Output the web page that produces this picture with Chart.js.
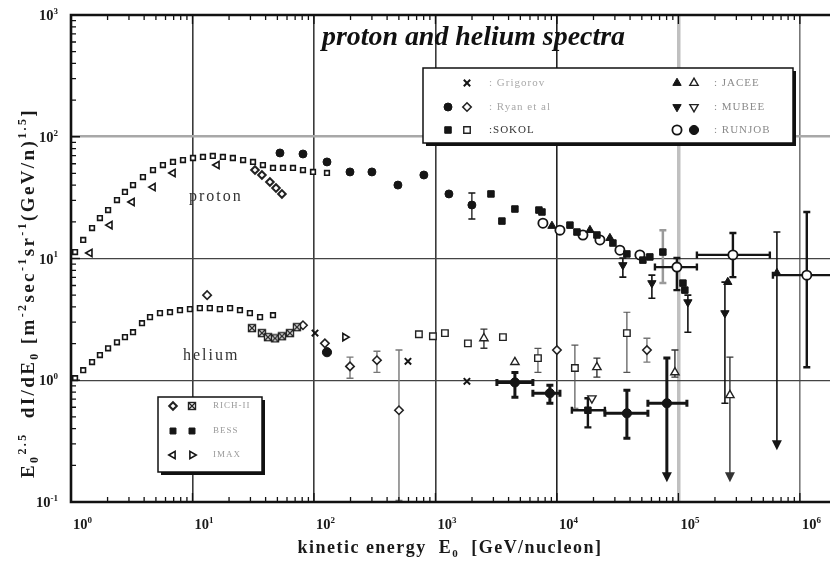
<!DOCTYPE html>
<html>
<head>
<meta charset="utf-8">
<script src="https://cdn.jsdelivr.net/npm/chart.js@4.4.1/dist/chart.umd.min.js"></script>
<style>
html, body { margin: 0; padding: 0; background: #fff; }
#wrap { width: 830px; height: 565px; }
</style>
</head>
<body>
<div id="wrap"><canvas id="chart" width="830" height="565"></canvas></div>
<script>
// Оси
const X_MIN = 1, X_MAX = 1.77e6;
const Y_MIN = 0.1, Y_MAX = 1000;
const xDecades = [0, 1, 2, 3, 4, 5, 6];
const yDecades = [-1, 0, 1, 2, 3];

// ---- протоны ----
const bessProtonE = [1.08, 1.26, 1.49, 1.73, 2.02, 2.39, 2.78, 3.24, 3.91, 4.73, 5.71, 6.91, 8.35, 10.1, 12.2, 14.7, 17.8, 21.5, 26.1, 31.5, 38, 46, 55.6, 67.2, 81.2, 98.2, 128];
const bessProtonFlux = [11.3, 14.2, 17.8, 21.5, 25, 30.2, 35.2, 40.1, 46.7, 53.3, 58.6, 62.1, 64.4, 66.9, 68.2, 69.5, 68.2, 66.9, 64.4, 62.1, 58.6, 55.4, 55.4, 55.4, 53.3, 51.4, 50.4];

const imaxProtonE = [1.43, 2.09, 3.18, 4.73, 6.91, 15.9];
const imaxProtonFlux = [11.1, 18.8, 29.1, 38.6, 50.4, 58.6];

const richProtonE = [32.7, 37.3, 43.4, 48.7, 54.5];
const richProtonFlux = [53.3, 48.5, 42.5, 37.9, 33.9];

const ryanProtonE = [52.5, 81.2, 128, 198, 300, 491, 803, 1291, 1995];
const ryanProtonFlux = [73.6, 72.2, 62.1, 51.4, 51.4, 40.1, 48.5, 33.9, 27.5];
const ryanProtonErr = [null, null, null, null, null, null, null, null, [21.1, 34.5]];

const sokolProtonE = [2864, 3525, 4510, 7110, 7530, 12800, 14620, 21340, 28900, 37670, 51000, 58200, 74500, 109000, 113000];
const sokolProtonFlux = [33.9, 20.3, 25.5, 25.0, 24.1, 18.8, 16.5, 15.6, 13.4, 10.9, 9.7, 10.3, 11.3, 6.28, 5.5];
const sokolProtonErr = [null, null, null, null, null, null, null, null, null, null, null, null, [6.28, 17.1], null, null];

const jaceeProtonE = [9100, 18700, 27300, 255000, 647000];
const jaceeProtonFlux = [18.5, 17.1, 14.7, 6.4, 7.59];
const jaceeProtonErr = [null, null, null, null, [0.266, 16.5]];
const jaceeProtonArrow = [false, false, false, false, true];

const mubeeProtonE = [34900, 60500, 119700, 241500];
const mubeeProtonFlux = [8.83, 6.28, 4.38, 3.56];
const mubeeProtonErr = [[7.03, 10.1], [4.72, 7.3], [2.48, 5.0], [0.647, 6.4]];

const runjobProtonE = [7670, 10590, 16370, 22600, 33000, 48200, 97200, 281000, 1140000];
const runjobProtonFlux = [19.5, 17.1, 15.6, 14.2, 11.7, 10.7, 8.5, 10.7, 7.3];
const runjobProtonErr = [null, null, null, null, null, null, [5.5, 10.1], [7.03, 16.2], [1.28, 24.1]];
const runjobProtonXErr = [null, null, null, null, null, null, [64100, 142000], [142000, 566000], [600000, 2500000]];

// ---- гелий ----
const bessHeliumE = [1.08, 1.26, 1.49, 1.73, 2.02, 2.39, 2.78, 3.24, 3.84, 4.47, 5.4, 6.53, 7.89, 9.53, 11.5, 13.9, 16.8, 20.4, 24.6, 29.7, 36.0, 46.0];
const bessHeliumFlux = [1.04, 1.21, 1.41, 1.61, 1.83, 2.05, 2.26, 2.48, 2.94, 3.3, 3.56, 3.62, 3.76, 3.84, 3.91, 3.91, 3.84, 3.91, 3.76, 3.56, 3.3, 3.42];

const imaxHeliumE = [180];
const imaxHeliumFlux = [2.26];

const richHeliumE = [30.9, 37.3, 41.8, 47.8, 54.5, 63.4, 72.4];
const richHeliumFlux = [2.68, 2.44, 2.26, 2.21, 2.3, 2.44, 2.73];

const ryanHeliumE = [13.2, 81.2, 123, 198, 330, 501, 10000, 55080];
const ryanHeliumFlux = [5.0, 2.83, 2.01, 1.3, 1.46, 0.567, 1.77, 1.77];
const ryanHeliumErr = [null, null, null, [1.04, 1.55], [1.16, 1.73], [0.103, 1.77], null, [1.41, 2.21]];

const grigorovHeliumE = [102, 594, 1816];
const grigorovHeliumFlux = [2.44, 1.43, 0.98];

const sokolHeliumE = [731, 953, 1197, 1850, 3594, 6980, 14060, 37670];
const sokolHeliumFlux = [2.39, 2.3, 2.44, 2.01, 2.26, 1.52, 1.26, 2.44];
const sokolHeliumErr = [null, null, null, null, null, [1.16, 1.83], [0.589, 1.94], [1.16, 3.62]];

const sokolHeliumBigE = [17990];
const sokolHeliumBigFlux = [0.567];
const sokolHeliumBigErr = [[0.41, 0.711]];
const sokolHeliumBigXErr = [[13280, 24830]];

const jaceeHeliumE = [2507, 4510, 21340, 93600, 265500];
const jaceeHeliumFlux = [2.21, 1.41, 1.28, 1.16, 0.753];
const jaceeHeliumErr = [[1.83, 2.63], null, [1.06, 1.52], [1.06, 1.77], [0.145, 1.55]];
const jaceeHeliumArrow = [false, false, false, false, true];

const mubeeHeliumE = [19410];
const mubeeHeliumFlux = [0.711];

const runjobHeliumE = [128, 4510, 8750, 37670, 80350];
const runjobHeliumFlux = [1.7, 0.96, 0.782, 0.535, 0.647];
const runjobHeliumErr = [null, [0.725, 1.16], [0.647, 0.91], [0.334, 0.827], [0.145, 1.52]];
const runjobHeliumXErr = [null, [3206, 6340], [6340, 10590], [24830, 56100], [56100, 117500]];
const runjobHeliumArrow = [false, false, false, false, true];

// Маркер ⊠ для RICH-II (гелий)
const boxCross = document.createElement('canvas');
boxCross.width = 10; boxCross.height = 10;
(function () {
    const c = boxCross.getContext('2d');
    c.fillStyle = '#fff';
    c.fillRect(1, 1, 8, 8);
    c.strokeStyle = '#222';
    c.lineWidth = 1.4;
    c.strokeRect(1.5, 1.5, 7, 7);
    c.beginPath();
    c.moveTo(2, 2); c.lineTo(8, 8);
    c.moveTo(8, 2); c.lineTo(2, 8);
    c.stroke();
})();

// Стили маркеров
const DARK = '#151515';
const st = {
    grigorov: { pointStyle: 'crossRot', radius: 4.5, bg: DARK, border: DARK, bw: 2 },
    ryanP: { pointStyle: 'circle', radius: 4, bg: DARK, border: DARK, bw: 1 },
    ryanHe: { pointStyle: 'rectRot', radius: 4.2, bg: '#fff', border: '#222', bw: 1.6 },
    sokolP: { pointStyle: 'rect', radius: 4.6, bg: DARK, border: DARK, bw: 1 },
    sokolHe: { pointStyle: 'rect', radius: 4.6, bg: '#fff', border: '#222', bw: 1.4 },
    jaceeP: { pointStyle: 'triangle', radius: 4.8, bg: DARK, border: DARK, bw: 1 },
    jaceeHe: { pointStyle: 'triangle', radius: 4.8, bg: '#fff', border: '#222', bw: 1.4 },
    mubeeP: { pointStyle: 'triangle', radius: 4.8, rotation: 180, bg: DARK, border: DARK, bw: 1 },
    mubeeHe: { pointStyle: 'triangle', radius: 4.8, rotation: 180, bg: '#fff', border: '#222', bw: 1.4 },
    runjobP: { pointStyle: 'circle', radius: 4.6, bg: '#fff', border: DARK, bw: 1.8 },
    runjobHe: { pointStyle: 'circle', radius: 4.6, bg: DARK, border: DARK, bw: 1 },
    richP: { pointStyle: 'rectRot', radius: 3.8, bg: '#fff', border: '#222', bw: 2 },
    richHe: { pointStyle: boxCross, radius: 5, bg: '#fff', border: '#222', bw: 1 },
    bessP: { pointStyle: 'rect', radius: 3.3, bg: '#fff', border: DARK, bw: 1.6 },
    bessHe: { pointStyle: 'rect', radius: 3.3, bg: '#fff', border: DARK, bw: 1.6 },
    bessLeg: { pointStyle: 'rect', radius: 4.2, bg: DARK, border: DARK, bw: 1 },
    imaxP: { pointStyle: 'triangle', radius: 4.2, rotation: -90, bg: '#fff', border: DARK, bw: 1.6 },
    imaxHe: { pointStyle: 'triangle', radius: 4.2, rotation: 90, bg: '#fff', border: DARK, bw: 1.6 }
};

function makeSet(label, xs, ys, s, extra) {
    return Object.assign({
        label: label,
        data: xs.map((v, i) => ({ x: v, y: ys[i] })),
        pointStyle: s.pointStyle,
        pointRadius: s.radius,
        pointRotation: s.rotation || 0,
        pointBackgroundColor: s.bg,
        pointBorderColor: s.border,
        pointBorderWidth: s.bw,
        showLine: false
    }, extra || {});
}

const datasets = [
    makeSet('BESS p', bessProtonE, bessProtonFlux, st.bessP),
    makeSet('IMAX p', imaxProtonE, imaxProtonFlux, st.imaxP),
    makeSet('RICH-II p', richProtonE, richProtonFlux, st.richP),
    makeSet('Ryan p', ryanProtonE, ryanProtonFlux, st.ryanP, { yErr: ryanProtonErr }),
    makeSet('SOKOL p', sokolProtonE, sokolProtonFlux, st.sokolP, { yErr: sokolProtonErr, errColor: '#9a9a9a', errWidth: 2.5 }),
    makeSet('JACEE p', jaceeProtonE, jaceeProtonFlux, st.jaceeP, { yErr: jaceeProtonErr, arrow: jaceeProtonArrow, errWidth: 1.6 }),
    makeSet('MUBEE p', mubeeProtonE, mubeeProtonFlux, st.mubeeP, { yErr: mubeeProtonErr, errWidth: 1.6 }),
    makeSet('RUNJOB p', runjobProtonE, runjobProtonFlux, st.runjobP, { yErr: runjobProtonErr, xErr: runjobProtonXErr, errWidth: 2.4 }),
    makeSet('BESS He', bessHeliumE, bessHeliumFlux, st.bessHe),
    makeSet('IMAX He', imaxHeliumE, imaxHeliumFlux, st.imaxHe),
    makeSet('RICH-II He', richHeliumE, richHeliumFlux, st.richHe),
    makeSet('Ryan He', ryanHeliumE, ryanHeliumFlux, st.ryanHe, { yErr: ryanHeliumErr, errColor: '#777', errWidth: 1.4 }),
    makeSet('Grigorov He', grigorovHeliumE, grigorovHeliumFlux, st.grigorov),
    makeSet('SOKOL He', sokolHeliumE, sokolHeliumFlux, st.sokolHe, { yErr: sokolHeliumErr, errColor: '#555', errWidth: 1.2 }),
    makeSet('SOKOL He big', sokolHeliumBigE, sokolHeliumBigFlux, st.sokolP, { yErr: sokolHeliumBigErr, xErr: sokolHeliumBigXErr, errWidth: 2.4 }),
    makeSet('JACEE He', jaceeHeliumE, jaceeHeliumFlux, st.jaceeHe, { yErr: jaceeHeliumErr, arrow: jaceeHeliumArrow, errColor: '#333', errWidth: 1.4 }),
    makeSet('MUBEE He', mubeeHeliumE, mubeeHeliumFlux, st.mubeeHe),
    makeSet('RUNJOB He', runjobHeliumE, runjobHeliumFlux, st.runjobHe, { yErr: runjobHeliumErr, xErr: runjobHeliumXErr, arrow: runjobHeliumArrow, errWidth: 3 })
];

// Сетка только на декадах
function decadeExp(v) {
    const l = Math.log10(v);
    const r = Math.round(l);
    return Math.abs(l - r) < 1e-6 ? r : null;
}
const xGridColor = { 1: '#3a3a3a', 2: '#3a3a3a', 3: '#3a3a3a', 4: '#222', 5: '#c0c0c0', 6: '#777' };
const xGridWidth = { 1: 1.6, 2: 1.6, 3: 1.6, 4: 1.6, 5: 3.5, 6: 1.6 };
const yGridColor = { 0: '#444', 1: '#444', 2: '#a8a8a8' };
const yGridWidth = { 0: 1.2, 1: 1.2, 2: 2.6 };

function gridPick(map, fallback) {
    return c => {
        if (!c.tick) return fallback;
        const e = decadeExp(c.tick.value);
        return e !== null && map[e] !== undefined ? map[e] : fallback;
    };
}

// Планки погрешностей
const errorBars = {
    id: 'errorBars',
    beforeDatasetsDraw(chart) {
        const { ctx, chartArea: a, scales: { x, y } } = chart;
        ctx.save();
        ctx.beginPath();
        ctx.rect(a.left, a.top, a.right - a.left, a.bottom - a.top);
        ctx.clip();
        chart.data.datasets.forEach(ds => {
            if (!ds.yErr && !ds.xErr) return;
            const col = ds.errColor || '#151515';
            ctx.strokeStyle = col;
            ctx.fillStyle = col;
            ctx.lineWidth = ds.errWidth || 1.3;
            ds.data.forEach((p, i) => {
                const px = x.getPixelForValue(p.x);
                const py = y.getPixelForValue(p.y);
                const ye = ds.yErr && ds.yErr[i];
                const arrow = ds.arrow && ds.arrow[i];
                if (ye) {
                    const y0 = y.getPixelForValue(ye[0]);
                    const y1 = y.getPixelForValue(ye[1]);
                    ctx.beginPath();
                    ctx.moveTo(px, arrow ? y0 - 8 : y0);
                    ctx.lineTo(px, y1);
                    ctx.moveTo(px - 3.5, y1); ctx.lineTo(px + 3.5, y1);
                    if (!arrow) { ctx.moveTo(px - 3.5, y0); ctx.lineTo(px + 3.5, y0); }
                    ctx.stroke();
                    if (arrow) {
                        ctx.beginPath();
                        ctx.moveTo(px - 5, y0 - 10);
                        ctx.lineTo(px + 5, y0 - 10);
                        ctx.lineTo(px, y0);
                        ctx.closePath();
                        ctx.fill();
                    }
                }
                const xe = ds.xErr && ds.xErr[i];
                if (xe) {
                    const x0 = x.getPixelForValue(xe[0]);
                    const x1 = x.getPixelForValue(xe[1]);
                    ctx.beginPath();
                    ctx.moveTo(x0, py); ctx.lineTo(x1, py);
                    ctx.moveTo(x0, py - 3.5); ctx.lineTo(x0, py + 3.5);
                    ctx.moveTo(x1, py - 3.5); ctx.lineTo(x1, py + 3.5);
                    ctx.stroke();
                }
            });
        });
        ctx.restore();
    }
};

const SERIF = '"Liberation Serif", "Times New Roman", serif';

// Текст с верхними/нижними индексами; target — желаемая длина строки
function drawRuns(ctx, runs, x, y, size, align, target) {
    const fonts = {
        n: 'bold ' + size + 'px ' + SERIF,
        sup: 'bold ' + Math.round(size * 0.62) + 'px ' + SERIF,
        sub: 'bold ' + Math.round(size * 0.62) + 'px ' + SERIF
    };
    const off = { n: 0, sup: -size * 0.42, sub: size * 0.22 };
    ctx.letterSpacing = '0px';
    let natural = 0, chars = 0;
    runs.forEach(r => { ctx.font = fonts[r[1]]; natural += ctx.measureText(r[0]).width; chars += r[0].length; });
    const gap = target ? Math.max(0, (target - natural) / chars) : 0;
    const total = natural + gap * chars;
    let cx = align === 'center' ? x - total / 2 : align === 'right' ? x - total : x;
    ctx.textAlign = 'left';
    ctx.textBaseline = 'alphabetic';
    runs.forEach(r => {
        ctx.font = fonts[r[1]];
        for (const ch of r[0]) {
            ctx.fillText(ch, cx, y + off[r[1]]);
            cx += ctx.measureText(ch).width + gap;
        }
    });
}

function fitFont(ctx, text, style, target) {
    ctx.font = style + ' 20px ' + SERIF;
    const size = 20 * target / ctx.measureText(text).width;
    return style + ' ' + size.toFixed(1) + 'px ' + SERIF;
}

function symbol(ctx, s, x, y) {
    ctx.save();
    ctx.fillStyle = s.bg;
    ctx.strokeStyle = s.border;
    ctx.lineWidth = s.bw;
    Chart.helpers.drawPoint(ctx, { pointStyle: s.pointStyle, radius: s.radius, rotation: s.rotation || 0, borderWidth: s.bw }, x, y);
    ctx.restore();
}

function legendBox(ctx, l, t, r, b) {
    ctx.fillStyle = '#111';
    ctx.fillRect(l + 3, t + 3, r - l, b - t);
    ctx.fillStyle = '#fff';
    ctx.fillRect(l, t, r - l, b - t);
    ctx.strokeStyle = '#111';
    ctx.lineWidth = 1.5;
    ctx.strokeRect(l, t, r - l, b - t);
}

const legendMain = [
    { syms: [null, st.grigorov], text: ': Grigorov', color: '#a8a8a8', col: 0 },
    { syms: [st.ryanP, st.ryanHe], text: ': Ryan et al', color: '#a8a8a8', col: 0 },
    { syms: [st.sokolP, st.sokolHe], text: ':SOKOL', color: '#333', col: 0 },
    { syms: [st.jaceeP, st.jaceeHe], text: ': JACEE', color: '#8a8a8a', col: 1 },
    { syms: [st.mubeeP, st.mubeeHe], text: ': MUBEE', color: '#8a8a8a', col: 1 },
    { syms: [st.runjobP, st.runjobHe], text: ': RUNJOB', color: '#8a8a8a', col: 1 }
];
const legendLow = [
    { syms: [st.richP, st.richHe], text: 'RICH-II' },
    { syms: [st.bessLeg, st.bessLeg], text: 'BESS' },
    { syms: [st.imaxP, st.imaxHe], text: 'IMAX' }
];

const frame = {
    id: 'frame',
    afterDatasetsDraw(chart) {
        const { ctx, chartArea: a, scales: { x, y } } = chart;
        ctx.save();

        // Малые и большие риски внутрь
        ctx.strokeStyle = '#111';
        ctx.lineWidth = 1.3;
        ctx.beginPath();
        xDecades.forEach(d => {
            for (let k = 1; k <= 9; k++) {
                const v = k * Math.pow(10, d);
                if (v > X_MAX) continue;
                const px = x.getPixelForValue(v);
                const len = k === 1 ? 9 : 5;
                ctx.moveTo(px, a.bottom); ctx.lineTo(px, a.bottom - len);
                ctx.moveTo(px, a.top); ctx.lineTo(px, a.top + len);
            }
        });
        yDecades.forEach(d => {
            for (let k = 1; k <= 9; k++) {
                const v = k * Math.pow(10, d);
                if (v > Y_MAX) continue;
                const py = y.getPixelForValue(v);
                const len = k === 1 ? 9 : 5;
                ctx.moveTo(a.left, py); ctx.lineTo(a.left + len, py);
            }
        });
        ctx.stroke();

        // Рамка (правый край обрезан)
        ctx.lineWidth = 2.6;
        ctx.beginPath();
        ctx.moveTo(a.right + 2, a.top);
        ctx.lineTo(a.left, a.top);
        ctx.lineTo(a.left, a.bottom);
        ctx.lineTo(a.right + 2, a.bottom);
        ctx.stroke();

        // Подписи делений
        ctx.fillStyle = '#1a1a1a';
        xDecades.forEach(d => {
            drawRuns(ctx, [['10', 'n'], [String(d), 'sup']], x.getPixelForValue(Math.pow(10, d)) + 2, 529, 14.5);
        });
        yDecades.forEach(d => {
            drawRuns(ctx, [['10', 'n'], [String(d), 'sup']], 58, y.getPixelForValue(Math.pow(10, d)) + 5, 14.5, 'right');
        });

        // Подпись оси X
        drawRuns(ctx, [['kinetic energy  E', 'n'], ['0', 'sub'], ['  [GeV/nucleon]', 'n']], 450, 553, 18, 'center', 305);

        // Подпись оси Y
        ctx.save();
        ctx.translate(34, 293);
        ctx.rotate(-Math.PI / 2);
        drawRuns(ctx, [
            ['E', 'n'], ['0', 'sub'], ['2.5', 'sup'], ['  dI/dE', 'n'], ['0', 'sub'],
            [' [m', 'n'], ['-2', 'sup'], ['sec', 'n'], ['-1', 'sup'], ['sr', 'n'], ['-1', 'sup'],
            ['(GeV/n)', 'n'], ['1.5', 'sup'], [']', 'n']
        ], 0, 0, 19, 'center', 370);
        ctx.restore();

        // Заголовок
        const title = 'proton and helium spectra';
        ctx.font = fitFont(ctx, title, 'italic bold', 303);
        ctx.textAlign = 'left';
        ctx.fillStyle = '#111';
        ctx.fillText(title, 322, 45);

        // Подписи кривых
        ctx.font = '16px ' + SERIF;
        ctx.fillStyle = '#333';
        ctx.letterSpacing = '2px';
        ctx.fillText('proton', 189, 201);
        ctx.fillText('helium', 183, 360);
        ctx.letterSpacing = '0px';

        // Основная легенда
        legendBox(ctx, 423, 68, 793, 143);
        const rowsY = [83, 107, 130];
        legendMain.forEach((it, i) => {
            const ry = rowsY[i % 3];
            const sx = it.col === 0 ? [448, 467] : [677, 694];
            const tx = it.col === 0 ? 489 : 714;
            it.syms.forEach((s, k) => { if (s) symbol(ctx, s, sx[k], ry); });
            ctx.font = '11px ' + SERIF;
            ctx.letterSpacing = '1px';
            ctx.fillStyle = it.color;
            ctx.textBaseline = 'middle';
            ctx.fillText(it.text, tx, ry);
        });

        // Нижняя легенда
        legendBox(ctx, 158, 397, 262, 472);
        const rows2 = [406, 431, 455];
        legendLow.forEach((it, i) => {
            symbol(ctx, it.syms[0], 173, rows2[i]);
            symbol(ctx, it.syms[1], 192, rows2[i]);
            ctx.font = '9px ' + SERIF;
            ctx.letterSpacing = '1px';
            ctx.fillStyle = '#9a9a9a';
            ctx.textBaseline = 'middle';
            ctx.fillText(it.text, 213, rows2[i]);
        });
        ctx.letterSpacing = '0px';
        ctx.restore();
    }
};

new Chart(document.getElementById('chart'), {
    type: 'scatter',
    data: { datasets: datasets },
    options: {
        responsive: false,
        animation: false,
        layout: { autoPadding: false, padding: { left: 71, right: 0, top: 15, bottom: 63 } },
        plugins: { legend: { display: false }, tooltip: { enabled: false } },
        scales: {
            x: {
                type: 'logarithmic',
                min: X_MIN,
                max: X_MAX,
                ticks: { display: false },
                border: { display: false },
                grid: {
                    drawTicks: false,
                    color: gridPick(xGridColor, 'rgba(0,0,0,0)'),
                    lineWidth: gridPick(xGridWidth, 0)
                }
            },
            y: {
                type: 'logarithmic',
                min: Y_MIN,
                max: Y_MAX,
                ticks: { display: false },
                border: { display: false },
                grid: {
                    drawTicks: false,
                    color: gridPick(yGridColor, 'rgba(0,0,0,0)'),
                    lineWidth: gridPick(yGridWidth, 0)
                }
            }
        }
    },
    plugins: [errorBars, frame]
});
</script>
</body>
</html>
